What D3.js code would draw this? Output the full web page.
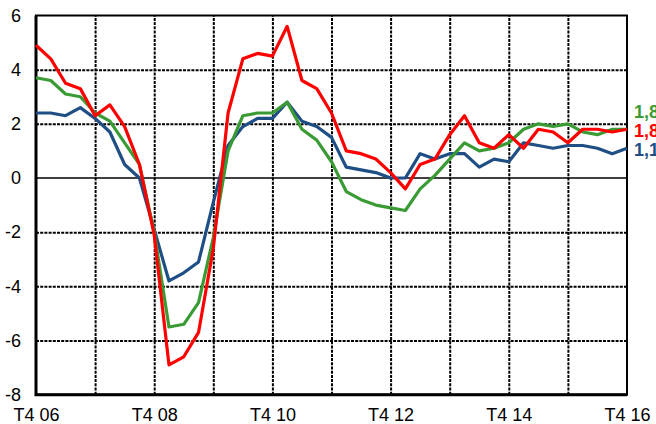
<!DOCTYPE html>
<html>
<head>
<meta charset="utf-8">
<script src="https://cdn.jsdelivr.net/npm/d3@7"></script>
<style>
  body { margin: 0; background: #fff; }
  svg { display: block; font-family: Arial, "Liberation Sans", sans-serif; }
  .grid line { stroke: #000; stroke-width: 2; stroke-dasharray: 3,1.2; }
  .grid path { display: none; }
  .lbl path, .lbl line { display: none; }
  .lbl text { font-size: 18px; fill: #000; }
</style>
</head>
<body>
<div id="chart"></div>
<script>
// quarters from T4 06 to T4 16
var tickLabels = ["T4 06", "T4 08", "T4 10", "T4 12", "T4 14", "T4 16"];
var yTicks = [-8, -6, -4, -2, 0, 2, 4, 6];

var red = [4.9, 4.4, 3.5, 3.3, 2.3, 2.7, 1.9, 0.5, -2.1, -6.9, -6.6, -5.7, -2.6, 2.4,
  4.4, 4.6, 4.5, 5.6, 3.6, 3.3, 2.4, 1.0, 0.9, 0.7, 0.2, -0.4, 0.5, 0.7, 1.6, 2.3,
  1.3, 1.1, 1.6, 1.1, 1.8, 1.7, 1.3, 1.8, 1.8, 1.7, 1.8];
var green = [3.7, 3.6, 3.1, 3.0, 2.4, 2.1, 1.3, 0.5, -2.0, -5.5, -5.4, -4.6, -2.2, 1.0,
  2.3, 2.4, 2.4, 2.8, 1.8, 1.4, 0.6, -0.5, -0.8, -1.0, -1.1, -1.2, -0.4, 0.1, 0.7, 1.3,
  1.0, 1.1, 1.3, 1.8, 2.0, 1.9, 2.0, 1.7, 1.6, 1.8, 1.8];
var blue = [2.4, 2.4, 2.3, 2.6, 2.2, 1.7, 0.5, 0.0, -1.9, -3.8, -3.5, -3.1, -0.9, 1.2,
  1.9, 2.2, 2.2, 2.8, 2.1, 1.9, 1.5, 0.4, 0.3, 0.2, 0.0, 0.0, 0.9, 0.7, 0.9, 0.9,
  0.4, 0.7, 0.6, 1.3, 1.2, 1.1, 1.2, 1.2, 1.1, 0.9, 1.1];

var width = 656, height = 424;
var plotLeft = 36, plotRight = 627, plotTop = 15.5, plotBottom = 394.7;

var svg = d3.select('#chart').append('svg')
  .attr('width', width)
  .attr('height', height);

var n = red.length - 1;
var x = d3.scaleLinear().domain([0, n]).range([plotLeft, plotRight]);
var y = d3.scaleLinear().domain([-8, 6]).range([plotBottom, plotTop]);

// dashed grid
svg.append('g').attr('class', 'grid')
  .attr('transform', 'translate(0,' + plotBottom + ')')
  .call(d3.axisBottom(x).tickValues(d3.range(4, n, 4)).tickSize(-(plotBottom - plotTop)).tickFormat(''));
svg.append('g').attr('class', 'grid')
  .attr('transform', 'translate(' + plotLeft + ',0)')
  .call(d3.axisLeft(y).tickValues(yTicks.filter(function(d) { return d !== 0 && d !== -8 && d !== 6; }))
    .tickSize(-(plotRight - plotLeft)).tickFormat(''));

// zero line
svg.append('line')
  .attr('x1', plotLeft).attr('x2', plotRight)
  .attr('y1', y(0)).attr('y2', y(0))
  .attr('stroke', '#000').attr('stroke-width', 1.6);

// frame
svg.append('rect')
  .attr('x', plotLeft).attr('y', plotTop)
  .attr('width', plotRight - plotLeft).attr('height', plotBottom - plotTop)
  .attr('fill', 'none').attr('stroke', '#000').attr('stroke-width', 2);
svg.append('path')
  .attr('d', 'M' + plotLeft + ',' + plotTop + 'V' + plotBottom + 'H' + plotRight)
  .attr('fill', 'none').attr('stroke', '#000').attr('stroke-width', 3);

// tick labels
svg.append('g').attr('class', 'lbl')
  .attr('transform', 'translate(' + (plotLeft - 15) + ',0)')
  .call(d3.axisLeft(y).tickValues(yTicks).tickSize(0).tickPadding(0)
    .tickFormat(function(d) { return String(d); }));
svg.append('g').attr('class', 'lbl')
  .attr('transform', 'translate(0,' + (plotBottom + 14) + ')')
  .call(d3.axisBottom(x).tickValues(d3.range(0, n + 1, 8)).tickSize(0).tickPadding(0)
    .tickFormat(function(d, i) { return tickLabels[i]; }));

var line = d3.line()
  .x(function(d, i) { return x(i); })
  .y(function(d) { return y(d); });

var series = [
  { name: 'blue', values: blue, color: '#1f4e84', dy: 1.6 },
  { name: 'green', values: green, color: '#3a9b35', dy: -18 },
  { name: 'red', values: red, color: '#ff0000', dy: 1.6 }
];

series.forEach(function(s) {
  svg.append('path')
    .datum(s.values)
    .attr('d', line)
    .attr('fill', 'none')
    .attr('stroke', s.color)
    .attr('stroke-width', 3.2)
    .attr('stroke-linejoin', 'round');

  var last = s.values[s.values.length - 1];
  svg.append('text')
    .attr('x', plotRight + 7)
    .attr('y', y(last) + s.dy)
    .attr('dy', '0.35em')
    .attr('fill', s.color)
    .style('font-size', '18px')
    .style('font-weight', 'bold')
    .text(last.toFixed(1).replace('.', ','));
});
</script>
</body>
</html>
